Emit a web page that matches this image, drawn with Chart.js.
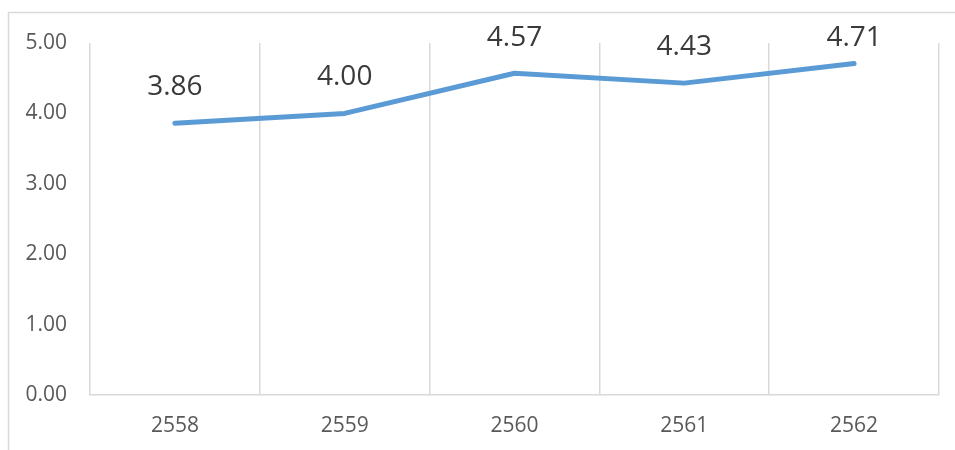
<!DOCTYPE html>
<html>
<head>
<meta charset="utf-8">
<script src="https://cdn.jsdelivr.net/npm/chart.js@4"></script>
<style>
  html, body { margin: 0; padding: 0; background: #fff; }
  #wrap { width: 955px; height: 450px; position: relative; }
</style>
</head>
<body>
<div id="wrap"><canvas id="chart" width="955" height="450"></canvas></div>
<script>
// data
const years = ['2558', '2559', '2560', '2561', '2562'];
const scores = [3.86, 4.00, 4.57, 4.43, 4.71];
const yTicks = [0, 1, 2, 3, 4, 5];

const gridColor = '#d9d9d9';
const lineColor = '#5b9bd5';

// outer frame of the chart object
const framePlugin = {
  id: 'frame',
  beforeDraw(chart) {
    const ctx = chart.ctx;
    ctx.save();
    ctx.strokeStyle = gridColor;
    ctx.lineWidth = 1.5;
    ctx.strokeRect(8.5, 12.5, 960, 460);
    ctx.restore();
  }
};

// value labels above each point
const valueLabels = {
  id: 'valueLabels',
  afterDatasetsDraw(chart) {
    const ctx = chart.ctx;
    const meta = chart.getDatasetMeta(0);
    ctx.save();
    ctx.font = '28px "Open Sans"';
    ctx.fillStyle = '#3a3a3a';
    ctx.textAlign = 'center';
    ctx.textBaseline = 'middle';
    meta.data.forEach((pt, i) => {
      const y = Math.max(pt.y - 36, 38);
      ctx.fillText(scores[i].toFixed(2), pt.x, y);
    });
    ctx.restore();
  }
};

new Chart(document.getElementById('chart').getContext('2d'), {
  type: 'line',
  data: {
    labels: years,
    datasets: [{
      data: scores,
      borderColor: lineColor,
      borderWidth: 5,
      borderCapStyle: 'round',
      borderJoinStyle: 'round',
      pointRadius: 0,
      tension: 0,
      fill: false
    }]
  },
  options: {
    responsive: false,
    animation: false,
    layout: { padding: { left: 0, top: 43, right: 16, bottom: 0 } },
    plugins: { legend: { display: false }, tooltip: { enabled: false } },
    scales: {
      x: {
        offset: true,
        grid: { offset: true, color: gridColor, lineWidth: 1.5, drawTicks: false },
        border: { color: gridColor, width: 1.5 },
        ticks: { color: '#595959', font: { family: 'Open Sans', size: 21 }, padding: 18 },
        afterFit(scale) { scale.height = 55; }
      },
      y: {
        min: 0,
        max: 5,
        afterBuildTicks(scale) { scale.ticks = yTicks.map(v => ({ value: v })); },
        grid: { display: false },
        border: { display: false },
        ticks: {
          color: '#595959',
          font: { family: 'Open Sans', size: 21 },
          padding: 15,
          callback: v => Number(v).toFixed(2)
        },
        afterFit(scale) { scale.width = 90; }
      }
    }
  },
  plugins: [framePlugin, valueLabels]
});
</script>
</body>
</html>
